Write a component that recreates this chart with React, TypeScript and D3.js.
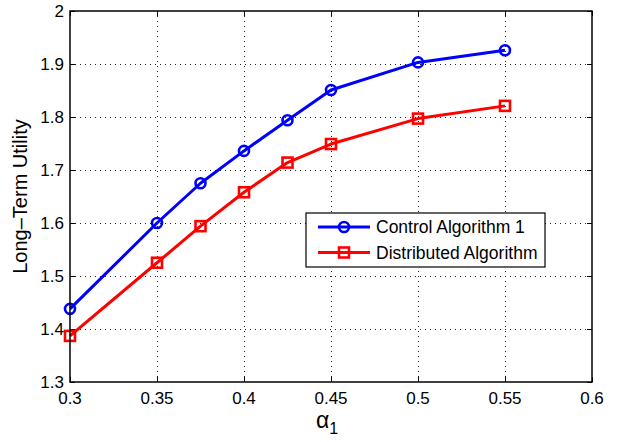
import React from 'react';
import { scaleLinear, line } from 'd3';

const W = 621;
const H = 442;
const M = { left: 70, right: 29, top: 11, bottom: 60 };

const alphas = [0.3, 0.35, 0.375, 0.4, 0.425, 0.45, 0.5, 0.55];
const controlAlg = [1.438, 1.6, 1.675, 1.736, 1.794, 1.851, 1.903, 1.926];
const distributedAlg = [1.387, 1.525, 1.594, 1.658, 1.714, 1.749, 1.797, 1.821];
const xTicks = [0.3, 0.35, 0.4, 0.45, 0.5, 0.55, 0.6];
const yTicks = [1.3, 1.4, 1.5, 1.6, 1.7, 1.8, 1.9, 2];

const BLUE = '#0000ff';
const RED = '#ff0000';
const FONT = '"Liberation Sans", Arial, Helvetica, sans-serif';

export default function App() {
  const x = scaleLinear().domain([0.3, 0.6]).range([M.left, W - M.right]);
  const y = scaleLinear().domain([1.3, 2]).range([H - M.bottom, M.top]);
  const x0 = x.range()[0];
  const x1 = x.range()[1];
  const y0 = y.range()[0];
  const y1 = y.range()[1];

  const lineGen = line<number>()
    .x((_, i) => x(alphas[i]))
    .y((d) => y(d));

  const series = [
    { name: 'Control Algorithm 1', values: controlAlg, color: BLUE, marker: 'circle' },
    { name: 'Distributed Algorithm', values: distributedAlg, color: RED, marker: 'square' },
  ];

  const marker = (kind: string, cx: number, cy: number, color: string, key: any) =>
    kind === 'circle' ? (
      <circle key={key} cx={cx} cy={cy} r={5} fill="none" stroke={color} strokeWidth={2.6} />
    ) : (
      <rect key={key} x={cx - 5} y={cy - 5} width={10} height={10} fill="none" stroke={color} strokeWidth={2.6} />
    );

  // legend box
  const lg = { x: 306, y: 213, w: 239, h: 54 };

  return (
    <svg
      width={W}
      height={H}
      style={{ position: 'fixed', left: 0, top: 0, background: '#fff' }}
      fontFamily={FONT}
    >
      <rect width={W} height={H} fill="#fff" />
      {/* grid */}
      <g stroke="#222" strokeWidth={1} strokeDasharray="1,4" shapeRendering="crispEdges">
        {xTicks.slice(1, -1).map((t) => (
          <line key={`gx${t}`} x1={x(t)} x2={x(t)} y1={y0} y2={y1} />
        ))}
        {yTicks.slice(1, -1).map((t) => (
          <line key={`gy${t}`} x1={x0} x2={x1} y1={y(t)} y2={y(t)} />
        ))}
      </g>
      {/* ticks */}
      <g stroke="#000" strokeWidth={1} shapeRendering="crispEdges">
        {xTicks.map((t) => (
          <g key={`tx${t}`}>
            <line x1={x(t)} x2={x(t)} y1={y0} y2={y0 - 5} />
            <line x1={x(t)} x2={x(t)} y1={y1} y2={y1 + 5} />
          </g>
        ))}
        {yTicks.map((t) => (
          <g key={`ty${t}`}>
            <line x1={x0} x2={x0 + 5} y1={y(t)} y2={y(t)} />
            <line x1={x1} x2={x1 - 5} y1={y(t)} y2={y(t)} />
          </g>
        ))}
      </g>
      {/* series */}
      {series.map((s) => (
        <g key={s.name}>
          <path d={lineGen(s.values) || ''} fill="none" stroke={s.color} strokeWidth={3} strokeLinejoin="round" />
          {s.values.map((v, i) => marker(s.marker, x(alphas[i]), y(v), s.color, i))}
        </g>
      ))}
      {/* box */}
      <rect x={x0} y={y1} width={x1 - x0} height={y0 - y1} fill="none" stroke="#000" strokeWidth={1.5} />
      {/* tick labels */}
      <g fontSize={17} fill="#000">
        {xTicks.map((t) => (
          <text key={`lx${t}`} x={x(t)} y={y0 + 22} textAnchor="middle">
            {String(t)}
          </text>
        ))}
        {yTicks.map((t) => (
          <text key={`ly${t}`} x={x0 - 6} y={y(t) + 6} textAnchor="end">
            {String(t)}
          </text>
        ))}
      </g>
      {/* axis labels */}
      <text
        transform={`translate(27,${(y0 + y1) / 2}) rotate(-90)`}
        textAnchor="middle"
        fontSize={20}
      >
        Long–Term Utility
      </text>
      <text x={(x0 + x1) / 2 - 4} y={y0 + 46} textAnchor="middle" fontSize={23}>
        α<tspan fontSize={16} dy={6}>1</tspan>
      </text>
      {/* legend */}
      <g>
        <rect x={lg.x} y={lg.y} width={lg.w} height={lg.h} fill="#fff" stroke="#000" strokeWidth={1.2} />
        {series.map((s, i) => {
          const cy = lg.y + 14 + i * 25.5;
          return (
            <g key={`lg${s.name}`}>
              <line x1={lg.x + 12} x2={lg.x + 64} y1={cy} y2={cy} stroke={s.color} strokeWidth={3} />
              {marker(s.marker, lg.x + 38, cy, s.color, 'm')}
              <text x={lg.x + 70} y={cy + 6} fontSize={17.5}>
                {s.name}
              </text>
            </g>
          );
        })}
      </g>
    </svg>
  );
}
